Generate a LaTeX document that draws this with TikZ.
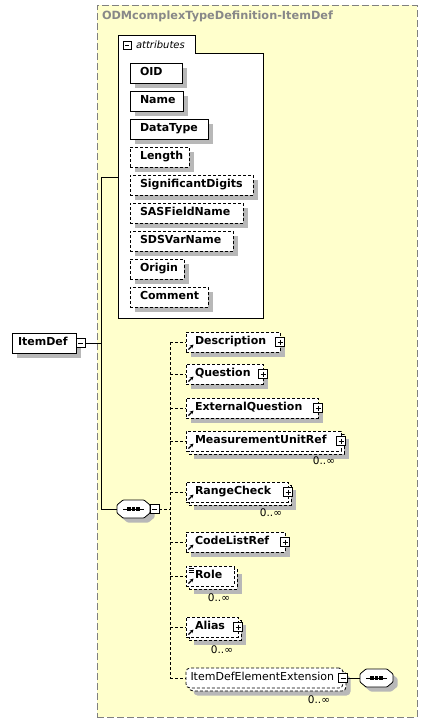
\documentclass[tikz,border=0pt]{standalone}
\usepackage{fontspec}
\setmainfont{DejaVu Sans}
\usetikzlibrary{shadows,arrows.meta}
\definecolor{bgyellow}{RGB}{255,255,204}
\definecolor{framegray}{RGB}{128,128,128}
\definecolor{titlegray}{RGB}{136,136,136}
\definecolor{shadowgray}{RGB}{184,184,184}
\newcommand\myocta[1]{%
  \filldraw[fill=white,draw=black,line width=0.8pt,rounded corners=0.8pt,
    drop shadow={shadow xshift=4.5pt,shadow yshift=-4.5pt,fill=shadowgray,opacity=1}]
    ([xshift=6pt]#1.north west) -- ([xshift=-6pt]#1.north east) -- ([yshift=-5pt]#1.north east)
    -- ([yshift=5pt]#1.south east) -- ([xshift=-6pt]#1.south east) -- ([xshift=6pt]#1.south west)
    -- ([yshift=5pt]#1.south west) -- ([yshift=-5pt]#1.north west) -- cycle;
  \draw[line width=1pt] ([xshift=-10.5pt]#1.center) -- ([xshift=10.5pt]#1.center);
  \foreach \dx in {-4.5,0,4.5} \fill ([xshift=\dx pt]#1.center) ++(-1.6,-1.6) rectangle ++(3.2,3.2);}
\begin{document}
\begin{tikzpicture}[x=1pt,y=-1pt,
  every node/.style={inner sep=0pt,outer sep=0pt},
  shd/.style={drop shadow={shadow xshift=4.5pt,shadow yshift=-4.5pt,fill=shadowgray,opacity=1}},
  bf/.style={font=\bfseries\fontsize{11}{13}\selectfont},
  box/.style={draw,line width=0.8pt,fill=white,minimum height=20pt,align=left,anchor=north west,
    text height=8pt,text depth=3pt,execute at begin node={\hyphenpenalty=10000\relax}},
  opt/.style={dash pattern=on 3pt off 2pt},
  attr/.style={box,bf,shd,inner xsep=10pt,text width=#1},
  elem/.style={box,bf,opt,inner xsep=9pt,text width=#1},
  backbox/.style={box,opt,shd,minimum width=#1},
  plusbox/.style={draw,solid,line width=0.6pt,fill=white,minimum size=9pt,
    path picture={\draw[line width=0.6pt] ([xshift=2pt]path picture bounding box.west) -- ([xshift=-2pt]path picture bounding box.east)
      ([yshift=-2pt]path picture bounding box.north) -- ([yshift=2pt]path picture bounding box.south);}},
  minusbox/.style={draw,solid,line width=0.6pt,fill=white,minimum size=9pt,
    path picture={\draw[line width=0.6pt] ([xshift=2pt]path picture bounding box.west) -- ([xshift=-2pt]path picture bounding box.east);}},
  seqbox/.style={minimum width=33pt,minimum height=18pt},
  occ/.style={anchor=east,font=\fontsize{10.5}{12}\selectfont},
  conn/.style={line width=0.8pt},
  dconn/.style={line width=0.8pt,dash pattern=on 3pt off 2pt},
  refarrow/.style={line width=1.1pt,-{Stealth[length=3.5pt,width=3.5pt]}}
]
\fill[white] (0,0) rectangle (427,723);
\useasboundingbox (0,0) rectangle (427,723);

% complex type frame
\node[draw=framegray,line width=1pt,dash pattern=on 7pt off 3pt,fill=bgyellow,
  minimum width=320pt,minimum height=712pt,anchor=north west] (ctype) at (97,5) {};
\node[anchor=west,text=titlegray,font=\bfseries\fontsize{11.3}{13}\selectfont] (title) at (102,16) {ODMcomplexTypeDefinition-ItemDef};

% attributes group
\node[draw,line width=0.8pt,fill=white,minimum width=145pt,minimum height=265pt,anchor=north west] (attrgrp) at (118,53) {};
\node[fill=white,minimum width=77pt,minimum height=18.5pt,anchor=north west] (attrtab) at (118,35) {};
\draw[conn] (attrtab.south west) -- (attrtab.north west) -- (attrtab.north east) -- (attrtab.south east);
\node[minusbox,minimum size=8pt] (attrtabminus) at (127,45) {};
\node[anchor=west,font=\itshape\fontsize{10}{12}\selectfont] (attrtext) at (136,45) {attributes};

\node[attr=32pt] (oid) at (130,63) {OID};
\node[attr=33pt] (name) at (130,91) {Name};
\node[attr=58pt] (datatype) at (130,119) {DataType};
\node[attr=39pt,opt] (length) at (130,147) {Length};
\node[attr=103pt,opt] (sigdig) at (130,175) {SignificantDigits};
\node[attr=93pt,opt] (sasfield) at (130,203) {SASFieldName};
\node[attr=83pt,opt] (sdsvar) at (130,231) {SDSVarName};
\node[attr=34pt,opt] (origin) at (130,259) {Origin};
\node[attr=58pt,opt] (comment) at (130,287) {Comment};

% ItemDef
\node[box,bf,shd,inner xsep=6pt,text width=52pt,solid] (itemdef) at (12,333) {ItemDef};
\node[minusbox,anchor=west] (itemdefminus) at (itemdef.east) {};

% sequence compositor
\node[seqbox] (seq) at (133.5,509) {};
\myocta{seq}
\node[minusbox,anchor=west] (seqminus) at (seq.east) {};

% children
\node[elem=76pt,shd] (desc) at (186,332) {Description};
\node[plusbox] (descplus) at (desc.east) {};
\node[elem=59pt,shd] (question) at (186,364) {Question};
\node[plusbox] (questionplus) at (question.east) {};
\node[elem=114pt,shd] (extq) at (186,398) {ExternalQuestion};
\node[plusbox] (extqplus) at (extq.east) {};
\node[backbox=155pt] (murbk) at (189,434) {};
\node[elem=137pt] (mur) at (186,431) {MeasurementUnitRef};
\node[plusbox] (murplus) at (mur.east) {};
\node[occ] (murocc) at (335,461) {0..∞};
\node[backbox=102pt] (rangebk) at (189,485) {};
\node[elem=84pt] (range) at (186,482) {RangeCheck};
\node[plusbox] (rangeplus) at (range.east) {};
\node[occ] (rangeocc) at (282,513) {0..∞};
\node[elem=81pt,shd] (codelist) at (186,532) {CodeListRef};
\node[plusbox] (codelistplus) at (codelist.east) {};
\node[backbox=48pt] (rolebk) at (189,569) {};
\node[elem=30pt] (role) at (186,566) {Role};
\node[occ] (roleocc) at (230,598) {0..∞};
\node[backbox=52pt] (aliasbk) at (189,620) {};
\node[elem=34pt] (alias) at (186,617) {Alias};
\node[plusbox] (aliasplus) at (alias.east) {};
\node[occ] (aliasocc) at (233,650) {0..∞};
\node[backbox=157pt,rounded corners=4pt] (extbk) at (189,671) {};
\node[box,opt,rounded corners=4pt,inner xsep=4.5pt,text width=148pt,font=\fontsize{11}{13}\selectfont] (ext) at (186,668) {ItemDefElementExtension};
\node[minusbox] (extminus) at (ext.east) {};
\node[occ] (extocc) at (330,700) {0..∞};
\node[seqbox] (extseq) at (376.5,678) {};
\myocta{extseq}

% reference arrows
\foreach \n in {desc,question,extq,mur,range,codelist,role,alias}
  \draw[refarrow] ([shift={(2.5,-2.5)}]\n.south west) -- ++(5,-5);
% simple content icon on Role
\foreach \dy in {2.5,4.5,6.5}
  \draw[line width=0.6pt] ([shift={(2.5,\dy)}]role.north west) -- ++(5,0);

% connectors
\coordinate (jA) at (101,343);
\coordinate (jAtop) at (101,177);
\coordinate (bus) at (170,509);
\draw[conn] (itemdefminus.east) -- (jA);
\draw[conn] (jA) -- (jAtop) -- (attrgrp.west |- jAtop);
\draw[conn] (jA) |- (seq.west);
\draw[dconn] (seqminus.east) -- (bus);
\draw[dconn] (bus |- desc.west) -- (bus |- ext.west);
\foreach \n in {desc,question,extq,mur,range,codelist,role,alias,ext}
  \draw[dconn] (bus |- \n.west) -- (\n.west);
\draw[conn] (extminus.east) -- (extseq.west);
\end{tikzpicture}
\end{document}
